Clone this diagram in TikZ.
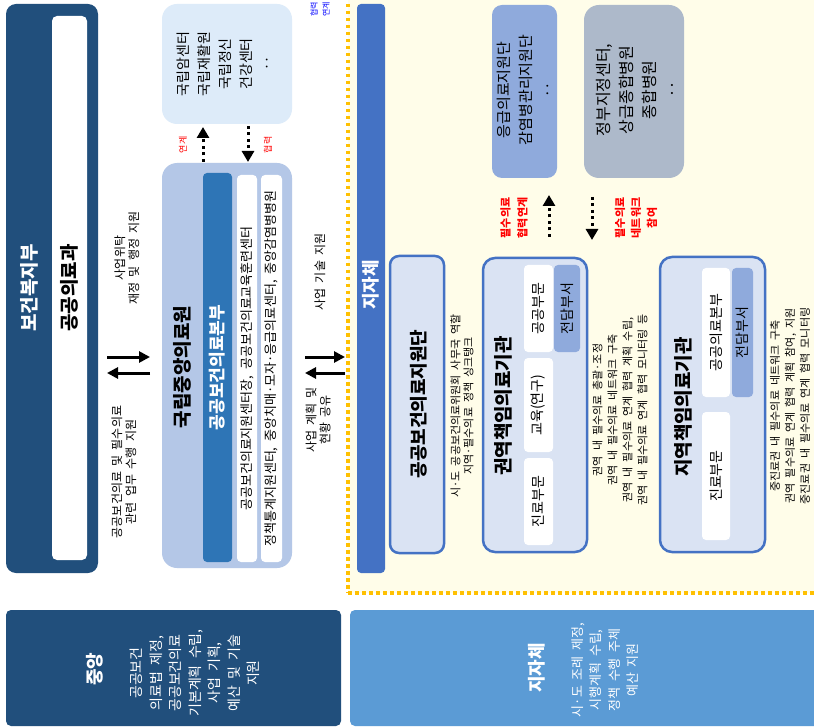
\documentclass[tikz,border=0pt]{standalone}
\usepackage{fontspec}
\setmainfont{Noto Sans CJK KR}[WordSpace=2]
\usetikzlibrary{arrows.meta}

\definecolor{navy}{RGB}{33,79,124}
\definecolor{nmcblue}{RGB}{180,199,231}
\definecolor{hqblue}{RGB}{46,117,182}
\definecolor{paleblue}{RGB}{221,235,249}
\definecolor{barblue}{RGB}{68,114,196}
\definecolor{boxfill}{RGB}{218,227,243}
\definecolor{deptblue}{RGB}{143,170,220}
\definecolor{slate}{RGB}{173,185,202}
\definecolor{zoneyel}{RGB}{255,253,233}
\definecolor{zoneline}{RGB}{255,192,0}
\definecolor{localblue}{RGB}{91,155,213}

\begin{document}
\begin{tikzpicture}[
    x=1pt, y=-1pt,
    box/.style={rectangle, rotate=90, inner sep=0pt, outer sep=0pt},
    vtxt/.style={rotate=90, inner sep=0pt, align=center},
    title/.style={vtxt, font=\fontsize{19}{22}\selectfont\bfseries},
    note/.style={vtxt, font=\fontsize{12}{14}\selectfont},
    desc/.style={vtxt, font=\fontsize{11}{15}\selectfont},
    unit/.style={box, fill=white, rounded corners=4pt, font=\fontsize{14}{16}\selectfont},
    dept/.style={box, fill=deptblue, rounded corners=4pt, font=\fontsize{14}{16}\selectfont},
    organ/.style={box, fill=boxfill, draw=barblue, line width=2.5pt, rounded corners=10pt},
    arr/.style={line width=3pt, -{Triangle[width=11pt,length=11pt]}},
    dotarr/.style={line width=3pt, dash pattern=on 3pt off 3.5pt, -{Triangle[width=12pt,length=11pt]}},
    redtag/.style={vtxt, text=red, font=\fontsize{11}{16}\selectfont\bfseries}
  ]
  \useasboundingbox (0,0) rectangle (814,727);
  \fill[white] (0,0) rectangle (814,727);

  %--- local government zone ---
  \node[draw=zoneline, fill=zoneyel, line width=3.5pt, dash pattern=on 3.5pt off 3.5pt,
        minimum width=490, minimum height=620, inner sep=0pt] (zone) at (593,283) {};

  %--- ministry ---
  \node[box, fill=navy, rounded corners=10pt, minimum width=569, minimum height=92] (mohw) at (52,288.5) {};
  \node[box, fill=white, rounded corners=5pt, minimum width=544, minimum height=35] (mohwin) at (69.5,288) {};
  \node[title, text=white] (mohwname) at (29,288) {보건복지부};
  \node[title] (divname) at (69.5,288) {공공의료과};

  %--- national medical center ---
  \node[box, fill=nmcblue, rounded corners=15pt, minimum width=405, minimum height=130] (nemc) at (227,365.5) {};
  \node[title] (nemcname) at (182,367) {국립중앙의료원};
  \node[box, fill=hqblue, rounded corners=4pt, minimum width=389, minimum height=29,
        text=white, font=\fontsize{17}{20}\selectfont\bfseries] (hq) at (217.5,367.5) {공공보건의료본부};
  \node[unit, minimum width=387, minimum height=20, font=\fontsize{13}{15}\selectfont] (cent1) at (247,368.5)
    {공공보건의료지원센터장, 공공보건의료교육훈련센터};
  \node[unit, minimum width=387, minimum height=21, font=\fontsize{13}{15}\selectfont] (cent2) at (271.5,368.5)
    {정책통계지원센터, 중앙치매·모자·응급의료센터, 중앙감염병병원};

  %--- national institutes ---
  \node[box, fill=paleblue, rounded corners=15pt, minimum width=120, minimum height=130] (nat) at (227,64) {};
  \node[vtxt, font=\fontsize{14}{21}\selectfont] (natlist) at (225,64) {국립암센터\\국립재활원\\국립정신\\건강센터\\‥};
  \draw[dotarr, shorten <=1pt, shorten >=3pt] ([xshift=-24pt]nemc.east) -- ([xshift=-24pt]nat.west);
  \draw[dotarr, shorten <=2pt, shorten >=1pt] ([xshift=21pt]nat.west) -- ([xshift=21pt]nemc.east);
  \node[vtxt, text=red, font=\fontsize{9}{11}\selectfont] (tagl) at (183,145) {연계};
  \node[vtxt, text=red, font=\fontsize{9}{11}\selectfont] (tagr) at (268,145) {협력};
  \node[vtxt, anchor=east, align=left, text=blue, font=\fontsize{8}{12}\selectfont] (clipnote) at (320,1.5) {협력\\연계};

  %--- ministry <-> centre ---
  \coordinate (lane1) at (0,357);
  \coordinate (lane2) at (0,373);
  \draw[arr, shorten <=9pt, shorten >=12pt] (mohw.south |- lane1) -- (nemc.north |- lane1);
  \draw[arr, shorten <=12pt, shorten >=9pt] (nemc.north |- lane2) -- (mohw.south |- lane2);
  \node[note] (entrust) at (127,258) {사업위탁\\재정 및 행정 지원};
  \node[note] (support) at (124,472) {공공보건의료 및 필수의료\\관련 업무 수행 지원};

  %--- centre <-> local government ---
  \node[box, fill=barblue, rounded corners=4pt, minimum width=569, minimum height=28] (lgbar) at (371,288.5) {};
  \node[vtxt, text=white, font=\fontsize{18}{20}\selectfont\bfseries] (lgname) at (371,285) {지자체};
  \draw[arr, shorten <=13pt, shorten >=12pt] (nemc.south |- lane1) -- (lgbar.north |- lane1);
  \draw[arr, shorten <=12pt, shorten >=13pt] (lgbar.north |- lane2) -- (nemc.south |- lane2);
  \node[note] (techsup) at (320,272) {사업 기술 지원};
  \node[note] (share) at (318,420) {사업 계획 및\\현황 공유};

  %--- support group ---
  \node[organ, rounded corners=9pt, minimum width=297, minimum height=54] (psg) at (417,404.5) {};
  \node[title, font=\fontsize{18}{20}\selectfont\bfseries] (psgname) at (419,404) {공공보건의료지원단};
  \node[desc, font=\fontsize{11}{13}\selectfont] (psgdesc) at (462,406)
    {시·도 공공보건의료위원회 사무국 역할\\지역·필수의료 정책 싱크탱크};

  %--- regional hospital ---
  \node[organ, rounded corners=12pt, minimum width=294, minimum height=104] (reg) at (535,405) {};
  \node[title] (regname) at (503,406) {권역책임의료기관};
  \node[unit, minimum width=87, minimum height=29] (regcare) at (538.5,501.5) {진료부문};
  \node[unit, minimum width=94, minimum height=29] (regedu) at (538.5,405) {교육(연구)};
  \node[unit, minimum width=87, minimum height=29] (regpub) at (538.5,308.5) {공공부문};
  \node[dept, minimum width=87, minimum height=26] (regdept) at (567,308.5) {전담부서};
  \node[desc] (regdesc) at (620,410)
    {권역 내 필수의료 총괄·조정\\권역 내 필수의료 네트워크 구축\\권역 내 필수의료 연계 협력 계획 수립,\\권역 내 필수의료 연계 협력 모니터링 등};

  %--- local hospital ---
  \node[organ, rounded corners=12pt, minimum width=295, minimum height=105] (loc) at (712.5,404.5) {};
  \node[title] (locname) at (683,407) {지역책임의료기관};
  \node[unit, minimum width=128, minimum height=28] (loccare) at (716,476) {진료부문};
  \node[unit, minimum width=129, minimum height=28] (lochq) at (716,332.5) {공공의료본부};
  \node[dept, minimum width=129, minimum height=21] (locdept) at (742.5,332.5) {전담부서};
  \node[desc] (locdesc) at (790,406)
    {중진료권 내 필수의료 네트워크 구축\\권역 필수의료 연계 협력 계획 참여, 지원\\중진료권 내 필수의료 연계 협력 모니터링};

  %--- partner organisations ---
  \node[box, fill=deptblue, rounded corners=10pt, minimum width=173, minimum height=65] (erbox) at (524.5,91.5) {};
  \node[vtxt, font=\fontsize{15}{22}\selectfont] (erlist) at (525,90) {응급의료지원단\\감염병관리지원단\\‥};
  \node[box, fill=slate, rounded corners=15pt, minimum width=173, minimum height=100] (govbox) at (634,91.5) {};
  \node[vtxt, font=\fontsize{16}{23}\selectfont] (govlist) at (637,90) {정부지정센터,\\상급종합병원\\종합병원\\‥};
  \coordinate (erfoot) at (549,237);
  \coordinate (govfoot) at (592,240);
  \draw[dotarr, shorten >=17pt] (erfoot) -- ([xshift=24.5pt]erbox.west);
  \draw[dotarr, shorten <=19pt] ([xshift=-42pt]govbox.west) -- (govfoot);
  \node[redtag, font=\fontsize{11}{17}\selectfont\bfseries] (tagcoop) at (514,218) {필수의료\\협력연계};
  \node[redtag] (tagnet) at (636,218) {필수의료\\네트워크\\참여};

  %--- legend boxes ---
  \node[box, fill=navy, rounded corners=5pt, minimum width=116, minimum height=335] (central) at (173.5,668) {};
  \node[vtxt, text=white, font=\fontsize{18}{20}\selectfont\bfseries] (centralname) at (95,669) {중앙};
  \node[vtxt, text=white, font=\fontsize{14}{19.5}\selectfont] (centraldesc) at (195,673)
    {공공보건\\의료법 제정,\\공공보건의료\\기본계획 수립,\\사업 기획,\\예산 및 기술\\지원};
  \node[box, fill=localblue, rounded corners=5pt, minimum width=116, minimum height=480] (local) at (590,668) {};
  \node[vtxt, text=white, font=\fontsize{18}{20}\selectfont\bfseries] (localname) at (537,668) {지자체};
  \node[vtxt, text=white, font=\fontsize{13}{18.5}\selectfont] (localdesc) at (605,670)
    {시·도 조례 제정,\\시행계획 수립,\\정책 수행 주체\\예산 지원};
\end{tikzpicture}
\end{document}
